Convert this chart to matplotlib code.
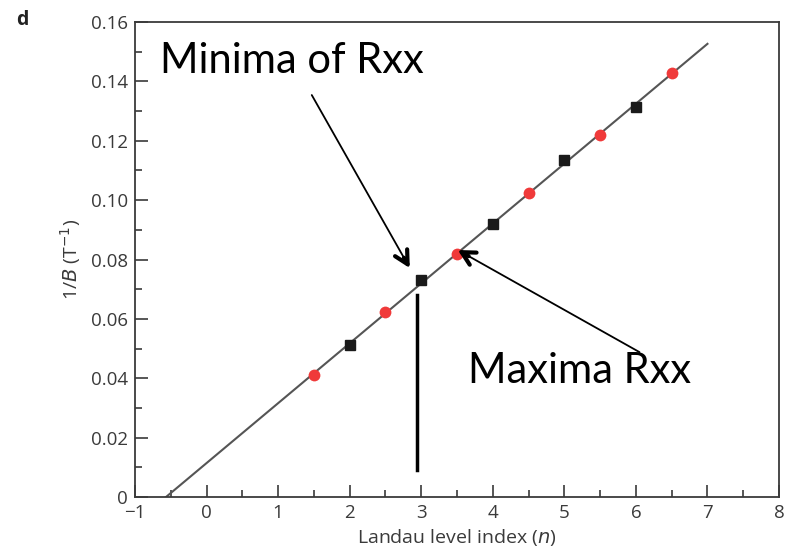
import numpy as np
import matplotlib.pyplot as plt

# Landau level index and 1/B positions of the Rxx extrema
n_min = [2, 3, 4, 5, 6]
inv_b_min = [0.0512, 0.0731, 0.0919, 0.1135, 0.1314]
n_max = [1.5, 2.5, 3.5, 4.5, 5.5, 6.5]
inv_b_max = [0.0411, 0.0623, 0.0818, 0.1024, 0.1219, 0.1428]

# linear fit through all points, drawn from the intercept up to n = 7
n_all = np.array(n_min + n_max)
b_all = np.array(inv_b_min + inv_b_max)
slope, icpt = np.polyfit(n_all, b_all, 1)
fit_x = np.array([-icpt / slope, 7.0])
fit_y = slope * fit_x + icpt

tc = '#3a3a3a'
plt.rcParams['font.family'] = ['Open Sans', 'DejaVu Sans']

fig = plt.figure(figsize=(7.92, 5.6), dpi=100)
ax = fig.add_axes([0.1705, 0.1125, 0.8131, 0.8482])

ax.plot(fit_x, fit_y, c='#555555', lw=1.5, zorder=2)
ax.plot(n_min, inv_b_min, ls='None', marker='s', ms=6.5, c='#1a1a1a', zorder=3)
ax.plot(n_max, inv_b_max, ls='None', marker='o', ms=8.5, c='#f03a3a', mec='none', zorder=3)

ax.set_xlim(-1, 8)
ax.set_ylim(0, 0.16)
ax.set_xticks(range(-1, 9))
ax.set_xticklabels(['\u22121'] + [str(i) for i in range(0, 9)])
ax.set_yticks(np.arange(0, 0.161, 0.02))
ax.set_yticklabels(['0'] + ['%.2f' % v for v in np.arange(0.02, 0.161, 0.02)])
ax.set_xticks(np.arange(-0.5, 8, 1.0), minor=True)
ax.set_yticks(np.arange(0.01, 0.16, 0.02), minor=True)
ax.tick_params(which='major', direction='in', length=9, width=1.2, color=tc,
               labelsize=13.5, labelcolor=tc, top=False, right=False, pad=5)
ax.tick_params(which='minor', direction='in', length=5, width=1.2, color=tc,
               top=False, right=False)
for s in ax.spines.values():
    s.set_color(tc)
    s.set_linewidth(1.3)

ax.set_xlabel('Landau level index ($\\it{n}$)', fontsize=14, color=tc, labelpad=4)
ax.set_ylabel('1/$\\it{B}$ (T$^{-1}$)', fontsize=14, color=tc, labelpad=6)
fig.text(0.02, 0.955, 'd', fontsize=14, fontweight='bold', color='#222222')

# annotations
lbl = dict(fontsize=30, family=['Lato', 'DejaVu Sans'], color='black')
ax.text(-0.65, 0.1428, 'Minima of Rxx', ha='left', va='baseline', **lbl)
ax.text(3.65, 0.0384, 'Maxima Rxx', ha='left', va='baseline', **lbl)

ax.plot([2.94, 2.94], [0.0091, 0.068], c='black', lw=2.5, clip_on=False)

arrows = [((1.47, 0.1354), (2.84, 0.0771)), ((6.05, 0.0488), (3.51, 0.0832))]
for tail, tip in arrows:
    ax.annotate('', xy=tip, xytext=tail,
                arrowprops=dict(arrowstyle='-', color='black', lw=1.3,
                                shrinkA=0, shrinkB=2))
    d = np.array(tail) - np.array(tip)
    near = (tip[0] + d[0] * 0.06, tip[1] + d[1] * 0.06)
    ax.annotate('', xy=tip, xytext=near,
                arrowprops=dict(arrowstyle='->, head_length=0.95, head_width=0.5',
                                color='black', lw=3, shrinkA=0, shrinkB=0))

fig.savefig('out.png', dpi=100)
